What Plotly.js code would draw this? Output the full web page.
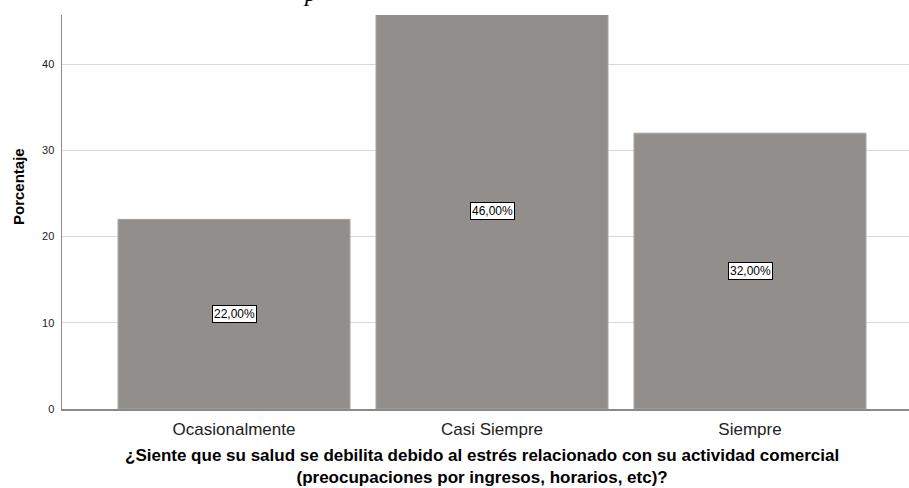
<!DOCTYPE html>
<html>
<head>
<meta charset="utf-8">
<script src="https://cdn.plot.ly/plotly-3.0.1.min.js"></script>
<style>html,body{margin:0;padding:0;background:#fff;}#chart{width:909px;height:488px;}</style>
</head>
<body>
<div id="chart"></div>
<script>
const categories = ["Ocasionalmente", "Casi Siempre", "Siempre"];
const percentages = [22, 46, 32];
const valueLabels = ["22,00%", "46,00%", "32,00%"];
const yTicks = [0, 10, 20, 30, 40];
const xTitleLines = ["¿Siente que su salud se debilita debido al estrés relacionado con su actividad comercial", "(preocupaciones por ingresos, horarios, etc)?"];
const yTitle = "Porcentaje";

const W = 909, H = 488, L = 62, T = 15, B = 79;
const plotW = W - L, plotH = H - T - B;

const annotations = categories.map((c, i) => ({
  x: c, y: percentages[i] / 2, xref: 'x', yref: 'y',
  text: valueLabels[i], showarrow: false,
  font: {family: 'Liberation Sans, Arial, sans-serif', size: 12, color: '#000'},
  bgcolor: '#fff', bordercolor: '#000', borderwidth: 1, borderpad: 1
}));
annotations.push({
  xref: 'paper', yref: 'paper', x: (482 - L) / plotW, y: (H - B - 466) / plotH,
  text: xTitleLines.join('<br>'), showarrow: false, xanchor: 'center', yanchor: 'middle', align: 'center',
  borderpad: 0,
  font: {family: 'Liberation Sans, Arial, sans-serif', size: 17, color: '#000', weight: 'bold'}
});
annotations.push({
  xref: 'paper', yref: 'paper', x: (18 - L) / plotW, y: (H - B - 187) / plotH,
  text: yTitle, showarrow: false, textangle: -90, xanchor: 'center', yanchor: 'middle',
  font: {family: 'Liberation Sans, Arial, sans-serif', size: 15, color: '#000', weight: 'bold'}
});
annotations.push({
  xref: 'paper', yref: 'paper', x: (310 - L) / plotW, y: 1, yshift: 22,
  text: '<i>p</i>', showarrow: false, xanchor: 'center', yanchor: 'middle',
  font: {family: 'Liberation Serif, Times New Roman, serif', size: 24, color: '#000'}
});

const trace = {
  type: 'bar', x: categories, y: percentages,
  marker: {color: '#928e8c', line: {color: '#a8a5a3', width: 1}},
  hoverinfo: 'none'
};

const catSpacing = 258, firstCenter = 234;
const xmin = (L - firstCenter) / catSpacing;
const xmax = (W - firstCenter) / catSpacing;
const ymax = (H - B - T) / 8.62;

const layout = {
  width: W, height: H,
  margin: {l: L, r: 0, t: T, b: B, pad: 0},
  paper_bgcolor: '#fff', plot_bgcolor: '#fff',
  showlegend: false,
  bargap: 26 / 258,
  xaxis: {
    type: 'category', range: [xmin, xmax],
    showgrid: false, zeroline: false,
    showline: true, linecolor: '#8a8a8a', linewidth: 1.5,
    ticks: '', ticklabelstandoff: 4,
    tickfont: {family: 'Liberation Sans, Arial, sans-serif', size: 17, color: '#222'}
  },
  yaxis: {
    range: [0, ymax], tickvals: yTicks, ticktext: yTicks.map(String),
    showgrid: true, gridcolor: '#d9d9d9', gridwidth: 1,
    zeroline: false, showline: true, linecolor: '#8a8a8a', linewidth: 1.5,
    ticks: '', ticklabelstandoff: 4,
    tickfont: {family: 'Liberation Sans, Arial, sans-serif', size: 11, color: '#222'}
  },
  annotations: annotations
};

Plotly.newPlot('chart', [trace], layout, {displayModeBar: false, staticPlot: true});
</script>
</body>
</html>
